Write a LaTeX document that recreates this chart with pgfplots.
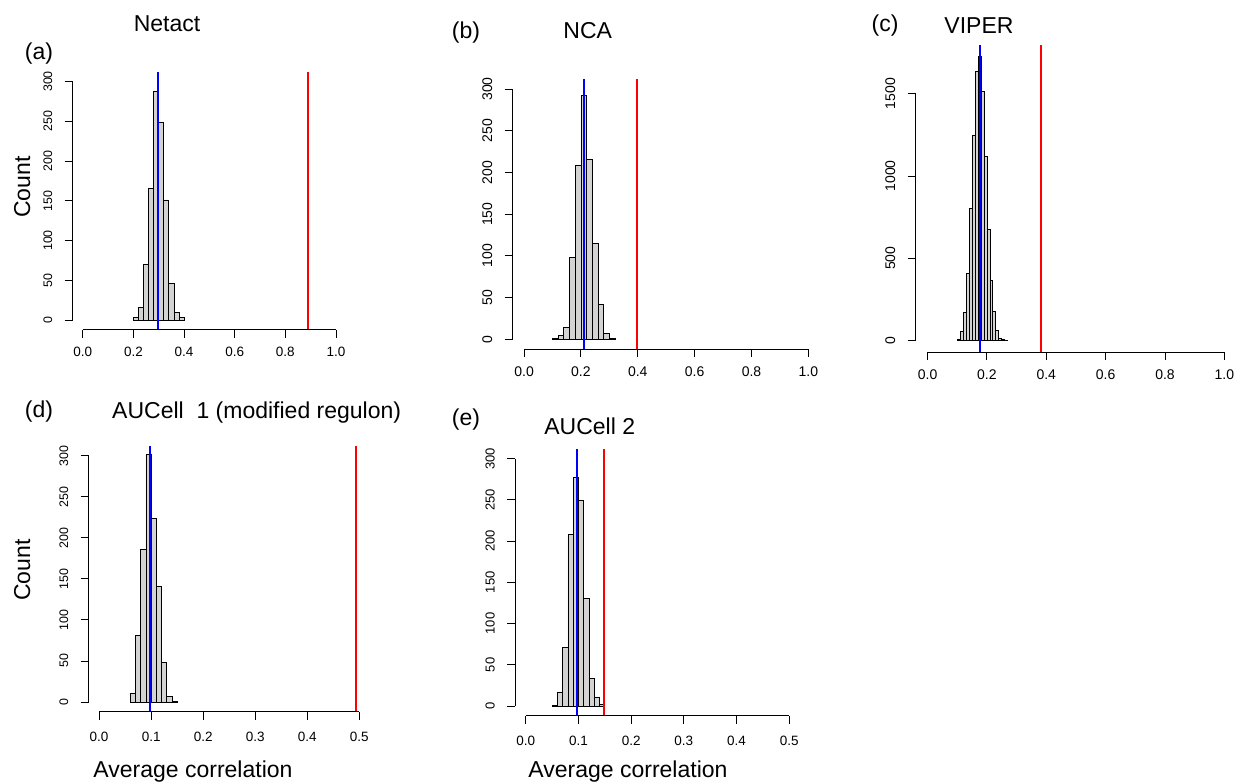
\documentclass[border=0pt]{standalone}
\usepackage{pgfplots}
\pgfplotsset{compat=1.18}
\usepackage{fontspec}
\setmainfont{Liberation Sans}
\definecolor{histgray}{HTML}{D3D3D3}
\newcommand\bigf{\fontsize{23}{27}\selectfont}
\pgfplotsset{
  rhist/.style={
    scale only axis,
    clip=false,
    axis x line*=bottom, axis y line*=left,
    x axis line style={draw=none}, y axis line style={draw=none},
    tick align=outside,
    major tick length=8pt,
    tick style={black, line width=0.9pt},
    xticklabel shift=6pt,
    yticklabel shift=9pt,
    yticklabel style={rotate=90, anchor=south, font=\fontsize{13}{15}\selectfont},
    xticklabel style={font=\fontsize{13.5}{16}\selectfont},
  },
  bars/.style={ybar interval, fill=histgray, draw=black, line width=0.8pt},
  bluel/.style={blue, line width=2pt},
  redl/.style={red, line width=2pt},
}
\begin{document}
\begin{tikzpicture}
\useasboundingbox (0,0) rectangle (1237pt,782pt);
% (a) Netact
\begin{axis}[rhist, at={(72.7pt,452.4pt)}, anchor=south west, width=273.4pt, height=257.6pt,
  xmin=-0.04, xmax=1.04, ymin=-12, ymax=312,
  xtick={0,0.2,0.4,0.6,0.8,1}, xticklabels={0.0,0.2,0.4,0.6,0.8,1.0},
  ytick={0,50,100,150,200,250,300}, yticklabels={0,50,100,150,200,250,300},
  yticklabel style={font=\fontsize{12.4}{14}\selectfont}]
\addplot[bars] coordinates {(0.20,3) (0.22,16) (0.24,70) (0.26,165) (0.28,287) (0.30,249) (0.32,151) (0.34,46) (0.36,10) (0.38,3) (0.40,0)};
\addplot[bluel] coordinates {(0.2985,-12) (0.2985,312)};
\addplot[redl] coordinates {(0.889,-12) (0.889,312)};
\draw[line width=0.9pt] (axis cs:0,-12) -- (axis cs:1,-12);
\draw[line width=0.9pt] (axis cs:-0.04,0) -- (axis cs:-0.04,300);
\end{axis}
% (b) NCA
\begin{axis}[rhist, at={(512.7pt,432.7pt)}, anchor=south west, width=307pt, height=270.3pt,
  xmin=-0.04, xmax=1.04, ymin=-12, ymax=312,
  xtick={0,0.2,0.4,0.6,0.8,1}, xticklabels={0.0,0.2,0.4,0.6,0.8,1.0},
  ytick={0,50,100,150,200,250,300}, yticklabels={0,50,100,150,200,250,300},
  yticklabel style={font=\fontsize{14}{16}\selectfont},
  xticklabel style={font=\fontsize{14}{16}\selectfont}]
\addplot[bars] coordinates {(0.10,1) (0.12,5) (0.14,14) (0.16,98) (0.18,209) (0.20,292) (0.22,216) (0.24,115) (0.26,42) (0.28,7) (0.30,1) (0.32,0)};
\addplot[bluel] coordinates {(0.212,-12) (0.212,312)};
\addplot[redl] coordinates {(0.399,-12) (0.399,312)};
\draw[line width=0.9pt] (axis cs:0,-12) -- (axis cs:1,-12);
\draw[line width=0.9pt] (axis cs:-0.04,0) -- (axis cs:-0.04,300);
\end{axis}
% (c) VIPER
\begin{axis}[rhist, at={(915.7pt,430pt)}, anchor=south west, width=320.5pt, height=306.6pt,
  xmin=-0.04, xmax=1.04, ymin=-69, ymax=1793,
  xtick={0,0.2,0.4,0.6,0.8,1}, xticklabels={0.0,0.2,0.4,0.6,0.8,1.0},
  ytick={0,500,1000,1500}, yticklabels={0,500,1000,1500},
  yticklabel style={font=\fontsize{14}{16}\selectfont},
  xticklabel style={font=\fontsize{14}{16}\selectfont}]
\addplot[bars] coordinates {(0.10,10) (0.11,55) (0.12,172) (0.13,409) (0.14,803) (0.15,1249) (0.16,1633) (0.17,1724) (0.18,1516) (0.19,1121) (0.20,676) (0.21,364) (0.22,178) (0.23,63) (0.24,15) (0.25,5) (0.26,2) (0.27,0)};
\addplot[bluel] coordinates {(0.175,-69) (0.175,1793)};
\addplot[redl] coordinates {(0.381,-69) (0.381,1793)};
\draw[line width=0.9pt] (axis cs:0,-69) -- (axis cs:1,-69);
\draw[line width=0.9pt] (axis cs:-0.04,0) -- (axis cs:-0.04,1500);
\end{axis}
% (d) AUCell 1
\begin{axis}[rhist, at={(88.7pt,70.1pt)}, anchor=south west, width=281pt, height=266.1pt,
  xmin=-0.02, xmax=0.52, ymin=-12, ymax=312,
  xtick={0,0.1,0.2,0.3,0.4,0.5}, xticklabels={0.0,0.1,0.2,0.3,0.4,0.5},
  ytick={0,50,100,150,200,250,300}, yticklabels={0,50,100,150,200,250,300},
  xticklabel shift=9pt,
  yticklabel style={font=\fontsize{12.4}{14}\selectfont}]
\addplot[bars] coordinates {(0.06,11) (0.07,81) (0.08,186) (0.09,302) (0.10,223) (0.11,141) (0.12,48) (0.13,7) (0.14,1) (0.15,0)};
\addplot[bluel] coordinates {(0.098,-12) (0.098,312)};
\addplot[redl] coordinates {(0.494,-12) (0.494,312)};
\draw[line width=0.9pt] (axis cs:0,-12) -- (axis cs:0.5,-12);
\draw[line width=0.9pt] (axis cs:-0.02,0) -- (axis cs:-0.02,300);
\end{axis}
% (e) AUCell 2
\begin{axis}[rhist, at={(515.2pt,66.1pt)}, anchor=south west, width=284.6pt, height=267.1pt,
  xmin=-0.02, xmax=0.52, ymin=-12, ymax=312,
  xtick={0,0.1,0.2,0.3,0.4,0.5}, xticklabels={0.0,0.1,0.2,0.3,0.4,0.5},
  xticklabel shift=9pt,
  ytick={0,50,100,150,200,250,300}, yticklabels={0,50,100,150,200,250,300}]
\addplot[bars] coordinates {(0.05,1) (0.06,17) (0.07,71) (0.08,208) (0.09,277) (0.10,249) (0.11,131) (0.12,33) (0.13,11) (0.14,2) (0.15,0)};
\addplot[bluel] coordinates {(0.0973,-12) (0.0973,312)};
\addplot[redl] coordinates {(0.1485,-12) (0.1485,312)};
\draw[line width=0.9pt] (axis cs:0,-12) -- (axis cs:0.5,-12);
\draw[line width=0.9pt] (axis cs:-0.02,0) -- (axis cs:-0.02,300);
\end{axis}
% texts
\node[anchor=base, font=\bigf] at (167pt,750pt) {Netact};
\node[anchor=base, font=\bigf] at (39pt,722pt) {(a)};
\node[anchor=base, font=\bigf, rotate=90] at (30pt,595pt) {Count};
\node[anchor=base, font=\bigf] at (466pt,743.5pt) {(b)};
\node[anchor=base, font=\bigf] at (587.7pt,743.7pt) {NCA};
\node[anchor=base, font=\bigf] at (885pt,750pt) {(c)};
\node[anchor=base, font=\bigf] at (979pt,748pt) {VIPER};
\node[anchor=base, font=\bigf] at (39pt,364pt) {(d)};
\node[anchor=base, font=\bigf] at (256.7pt,363.7pt) {AUCell\ \ 1 (modified regulon)};
\node[anchor=base, font=\bigf, rotate=90] at (30pt,212pt) {Count};
\node[anchor=base, font=\bigf] at (193pt,5pt) {Average correlation};
\node[anchor=base, font=\bigf] at (466pt,356.8pt) {(e)};
\node[anchor=base, font=\bigf] at (589.7pt,347pt) {AUCell 2};
\node[anchor=base, font=\bigf] at (628pt,5pt) {Average correlation};
\end{tikzpicture}
\end{document}
